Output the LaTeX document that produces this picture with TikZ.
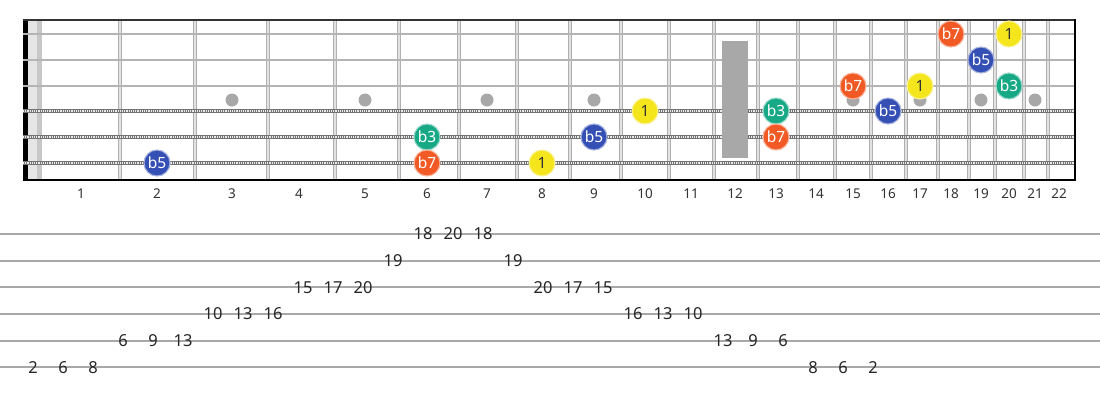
\documentclass[tikz,border=0pt]{standalone}
\usepackage{fontspec}
\setmainfont{Noto Sans}
\definecolor{cbfive}{HTML}{3550B5}
\definecolor{cbthree}{HTML}{17A886}
\definecolor{cbseven}{HTML}{F15A24}
\definecolor{croot}{HTML}{F4E51C}
\definecolor{inlaycol}{HTML}{A8A8A8}
\definecolor{fretedgecol}{HTML}{B0B0B0}
\definecolor{fretfillcol}{HTML}{E2E2E2}
\definecolor{strcol}{HTML}{B4B4B4}
\definecolor{tabcol}{HTML}{A8A8A8}
\begin{document}
\begin{tikzpicture}[x=1pt,y=-1pt,
  note/.style={circle,minimum size=26pt,inner sep=0pt,line width=1.1pt,font=\fontsize{15.5}{17}\selectfont,text=white},
  nbfive/.style={note,fill=cbfive,draw=cbfive!45!white},
  nbthree/.style={note,fill=cbthree,draw=cbthree!45!white},
  nbseven/.style={note,fill=cbseven,draw=cbseven!45!white},
  nroot/.style={note,fill=croot,draw=croot!45!white,text=black!80},
  inlay/.style={circle,fill=inlaycol,minimum size=13pt,inner sep=0pt},
  fretnum/.style={font=\fontsize{13.5}{15}\selectfont,text=black!80,inner sep=0pt},
  tabnum/.style={font=\fontsize{16.5}{18}\selectfont,text=black!85,inner sep=0pt},
  tabline/.style={draw=tabcol,line width=1.8pt},
  plainstr/.style={draw=strcol,line width=2.6pt},
  woundbase/.style={draw=black!55,line width=4.2pt},
  woundpat/.style={draw=black!8,line width=1.8pt,dash pattern=on 1.2pt off 1pt},
  fretedge/.style={draw=fretedgecol,line width=1pt}
]
\useasboundingbox (0,0) rectangle (1100,400);
\fill[white] (0,0) rectangle (1100,400);
% coordinates
\foreach \n/\x in {1/81,2/157,3/232,4/299,5/365,6/427,7/487,8/542,9/594,10/645,11/691,12/735,13/776,14/816,15/853,16/888,17/920,18/951,19/981,20/1009,21/1035,22/1059}
  {\coordinate (c\n) at (\x,0);}
\foreach \s/\y in {1/34,2/60,3/86,4/111,5/137,6/163}
  {\coordinate (s\s) at (0,\y);}
\coordinate (iy) at (0,100);
\coordinate (fy) at (0,194);
% nut
\fill[black] (23,20) rectangle (28,180);
\fill[black!10] (28,20) rectangle (37,180);
\fill[black!22] (37,20) rectangle (42,180);
% frets
\foreach \x in {120,195,268,335,399,459,517,570,621,669,714,758,798,835,871,906,938,969,995,1024,1048} {
  \fill[fretfillcol] (\x-1.7,20) rectangle (\x+1.7,180);
  \draw[fretedge] (\x-1.4,20) -- (\x-1.4,180);
  \draw[fretedge] (\x+1.4,20) -- (\x+1.4,180);
}
% inlays
\foreach \n in {3,5,7,9,15,17,19,21}
  {\node[inlay] (d\n) at (c\n |- iy) {};}
% strings
\foreach \y in {34,60,86}
  {\draw[plainstr] (23,\y) -- (1075,\y);}
\foreach \y in {111,137,163}
  {\draw[woundbase] (23,\y) -- (1075,\y);
   \draw[woundpat] (23,\y) -- (1075,\y);}
\node[fill=inlaycol,minimum width=26pt,minimum height=117pt,inner sep=0pt] (d12) at (735,99.5) {};
% border
\draw[black!80,line width=1.5pt] (23,20) -- (1076,20);
\draw[black,line width=2pt] (23,180) -- (1076,180);
\draw[black,line width=2pt] (1075,19.3) -- (1075,181);
% fret numbers
\foreach \n in {1,...,22}
  {\node[fretnum] (fl\n) at (c\n |- fy) {\n};}
% notes
\node[nbseven] (n1f18) at (c18 |- s1) {b7};
\node[nroot]   (n1f20) at (c20 |- s1) {1};
\node[nbfive]  (n2f19) at (c19 |- s2) {b5};
\node[nbseven] (n3f15) at (c15 |- s3) {b7};
\node[nroot]   (n3f17) at (c17 |- s3) {1};
\node[nbthree] (n3f20) at (c20 |- s3) {b3};
\node[nroot]   (n4f10) at (c10 |- s4) {1};
\node[nbthree] (n4f13) at (c13 |- s4) {b3};
\node[nbfive]  (n4f16) at (c16 |- s4) {b5};
\node[nbthree] (n5f6)  at (c6 |- s5) {b3};
\node[nbfive]  (n5f9)  at (c9 |- s5) {b5};
\node[nbseven] (n5f13) at (c13 |- s5) {b7};
\node[nbfive]  (n6f2)  at (c2 |- s6) {b5};
\node[nbseven] (n6f6)  at (c6 |- s6) {b7};
\node[nroot]   (n6f8)  at (c8 |- s6) {1};
% tab
\foreach \s in {1,...,6}
  {\pgfmathsetmacro{\ty}{234+26.66*(\s-1)}
   \draw[tabline] (0,\ty) -- (1100,\ty);}
\foreach \k/\s/\v in {0/6/2,1/6/6,2/6/8,3/5/6,4/5/9,5/5/13,6/4/10,7/4/13,8/4/16,9/3/15,10/3/17,11/3/20,12/2/19,13/1/18,14/1/20,15/1/18,16/2/19,17/3/20,18/3/17,19/3/15,20/4/16,21/4/13,22/4/10,23/5/13,24/5/9,25/5/6,26/6/8,27/6/6,28/6/2}
  {\pgfmathsetmacro{\tx}{33+30*\k}
   \pgfmathsetmacro{\ty}{234+26.66*(\s-1)}
   \node[tabnum] (t\k) at (\tx,\ty) {\v};}
\end{tikzpicture}
\end{document}
